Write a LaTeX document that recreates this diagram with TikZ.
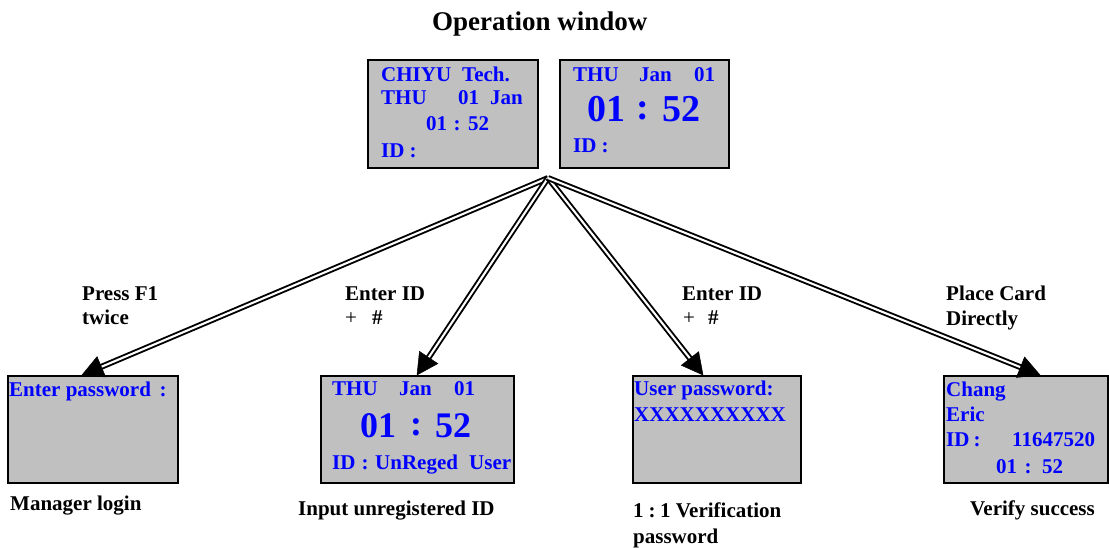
\documentclass[tikz,border=0pt]{standalone}
\usepackage{fontspec}
\setmainfont{Liberation Serif}
\usetikzlibrary{arrows.meta,calc}
\definecolor{lcdgray}{HTML}{C0C0C0}
\definecolor{lcdblue}{HTML}{0000FF}
\newcommand{\myfs}[1]{\fontsize{#1}{#1}\selectfont}
\begin{document}
\begin{tikzpicture}[x=1pt,y=-1pt,
  lcdbox/.style={draw=black, line width=1.6pt, fill=lcdgray, anchor=north west, inner sep=0pt},
  bt/.style={anchor=base west, inner sep=0pt, text=lcdblue, font=\bfseries\myfs{21}},
  btc/.style={anchor=base, inner sep=0pt, text=lcdblue, font=\bfseries\myfs{21}},
  bigt/.style={anchor=base west, inner sep=0pt, text=lcdblue, font=\bfseries\myfs{#1}},
  bigc/.style={anchor=base, inner sep=0pt, text=lcdblue, font=\bfseries\myfs{#1}},
  lbl/.style={anchor=base west, inner sep=0pt, text=black, font=\bfseries\myfs{21}},
  lblc/.style={anchor=base, inner sep=0pt, text=black, font=\bfseries\myfs{21}},
  plain/.style={anchor=base west, inner sep=0pt, text=black, font=\myfs{21}},
  dline/.style={double=white, draw=black, line width=1.9pt, double distance=2.1pt, shorten >=14pt},
  headfill/.style={fill=black, draw=black, line width=0.5pt, line join=miter}
]
\useasboundingbox (0,0) rectangle (1109,548);

% title
\node[anchor=base west, inner sep=0pt, font=\bfseries\myfs{27}] (title) at (432,31) {Operation window};

% boxes
\node[lcdbox, minimum width=170pt, minimum height=108pt] (top1) at (367,59) {};
\node[lcdbox, minimum width=169pt, minimum height=108pt] (top2) at (559,59) {};
\node[lcdbox, minimum width=170pt, minimum height=107pt] (b1) at (7,375) {};
\node[lcdbox, minimum width=193pt, minimum height=107pt] (b2) at (320,375) {};
\node[lcdbox, minimum width=168pt, minimum height=107pt] (b3) at (632,375) {};
\node[lcdbox, minimum width=164pt, minimum height=107pt] (b4) at (943,375) {};

% top box 1
\node[bt] (t1a) at (381,82) {CHIYU};
\node[bt] (t1b) at (462,82) {Tech.};
\node[bt] (t1c) at (381,105) {THU};
\node[bt] (t1d) at (458,105) {01};
\node[bt] (t1e) at (490,105) {Jan};
\node[bt] (t1f) at (426,131) {01};
\node[btc] (t1g) at (457,131) {:};
\node[bt] (t1h) at (468,131) {52};
\node[bt] (t1i) at (381,158) {ID};
\node[btc] (t1j) at (413,158) {:};

% top box 2
\node[bt] (t2a) at (573,82) {THU};
\node[bt] (t2b) at (639,82) {Jan};
\node[bt] (t2c) at (694,82) {01};
\node[bigt=38] (t2d) at (587,122) {01};
\node[bigc=38] (t2e) at (643,120) {:};
\node[bigt=38] (t2f) at (662,122) {52};
\node[bt] (t2g) at (573,153) {ID};
\node[btc] (t2h) at (605,153) {:};

% bottom box 1
\node[bt] (b1a) at (9,396) {Enter password};
\node[btc] (b1b) at (163,396) {:};

% bottom box 2
\node[bt] (b2a) at (332,395) {THU};
\node[bt] (b2b) at (399,395) {Jan};
\node[bt] (b2c) at (454,395) {01};
\node[bigt=36] (b2d) at (360,437) {01};
\node[bigc=36] (b2e) at (416,435) {:};
\node[bigt=36] (b2f) at (435,437) {52};
\node[bt] (b2g) at (332,469) {ID};
\node[btc] (b2h) at (365,469) {:};
\node[bt] (b2i) at (375,469) {UnReged};
\node[bt] (b2j) at (469,469) {User};

% bottom box 3
\node[bt] (b3a) at (634,395) {User password:};
\node[bt] (b3b) at (634,421) {XXXXXXXXXX};

% bottom box 4
\node[bt] (b4a) at (946,396) {Chang};
\node[bt] (b4b) at (946,421) {Eric};
\node[bt] (b4c) at (946,446) {ID};
\node[btc] (b4d) at (977,446) {:};
\node[bt] (b4e) at (1012,446) {11647520};
\node[bt] (b4f) at (996,473) {01};
\node[btc] (b4g) at (1028,473) {:};
\node[bt] (b4h) at (1042,473) {52};

% captions
\node[lbl] (c1) at (10,510) {Manager login};
\node[lbl] (c2) at (298,515) {Input unregistered ID};
\node[lbl] (c3a) at (633,517) {1};
\node[lblc] (c3b) at (652,517) {:};
\node[lbl] (c3c) at (660,517) {1 Verification};
\node[lbl] (c3d) at (633,543) {password};
\node[lbl] (c4) at (970,515) {Verify success};

% arrow labels
\node[lbl] (l1a) at (82,301) {Press F1};
\node[lbl] (l1b) at (82,324) {twice};
\node[lbl] (l2a) at (345,301) {Enter ID};
\node[plain] (l2b) at (345,324) {+};
\node[lbl] (l2c) at (372,324) {\#};
\node[lbl] (l3a) at (682,301) {Enter ID};
\node[plain] (l3b) at (683,324) {+};
\node[lbl] (l3c) at (708,324) {\#};
\node[lbl] (l4a) at (946,301) {Place Card};
\node[lbl] (l4b) at (946,325) {Directly};

% connectors
\coordinate (o) at (548,178);
\coordinate (e1) at (82,375);
\coordinate (e2) at (417,375);
\coordinate (e3) at (703,375);
\coordinate (e4) at (1040,375);
\foreach \e in {e1,e2,e3,e4} {
  \draw[dline] (o) -- (\e);
  \coordinate (hb) at ($(\e)!21pt!(o)$);
  \fill[headfill] (\e) -- ($(hb)!11pt!90:(\e)$) -- ($(hb)!11pt!-90:(\e)$) -- cycle;
}
\end{tikzpicture}
\end{document}
